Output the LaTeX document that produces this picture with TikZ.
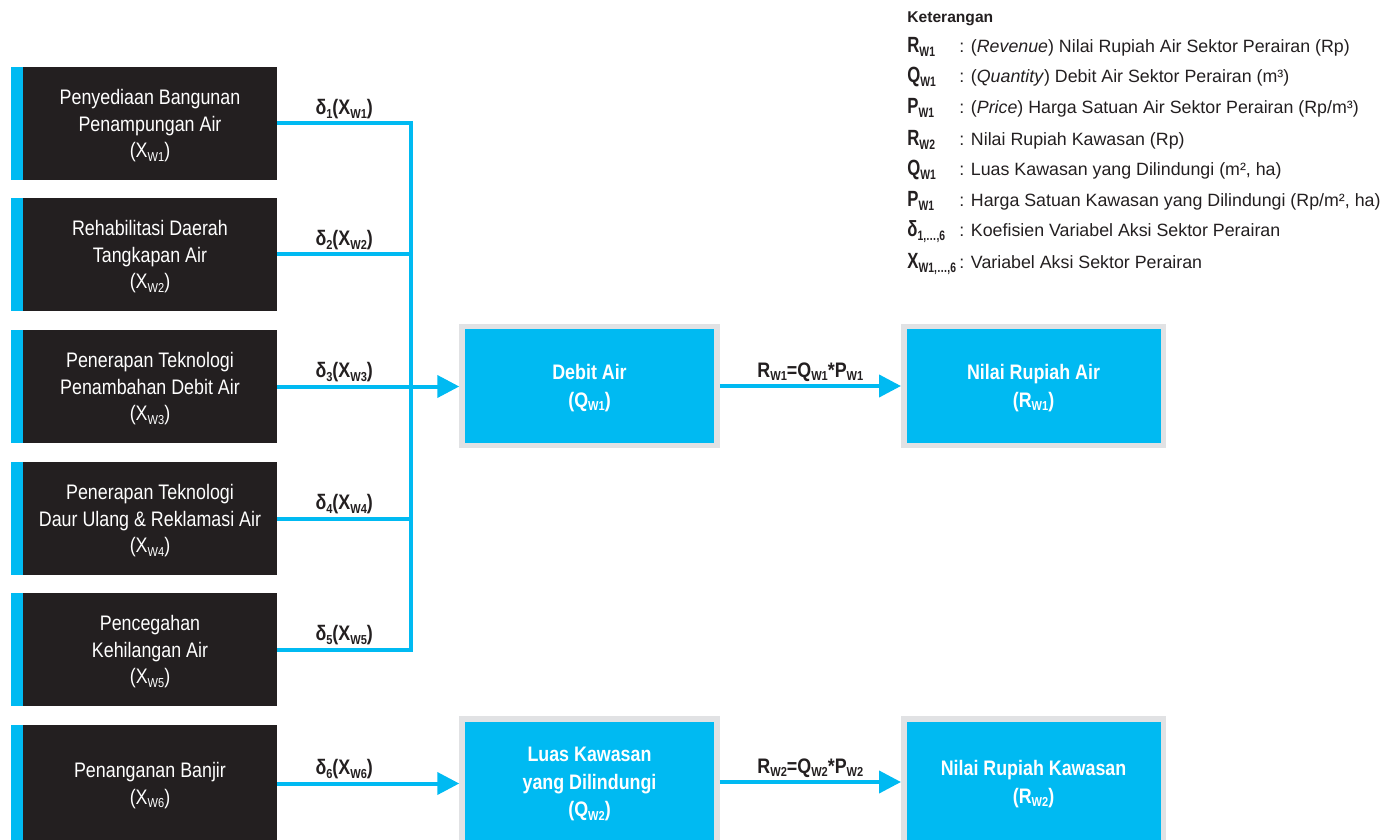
\documentclass[tikz,border=0pt]{standalone}
\usepackage{fontspec}
\setmainfont{Liberation Sans}
\newfontfamily\cond[FakeStretch=0.85]{Liberation Sans}
\newfontfamily\condn[FakeStretch=0.76]{Liberation Sans}
\usetikzlibrary{arrows.meta}
\definecolor{wcyan}{HTML}{00BAF2}
\definecolor{wdark}{HTML}{231F20}
\definecolor{wframe}{HTML}{E1E2E4}
% small lowered index, as used in the variable names
\newcommand\sbs[1]{\raisebox{-0.3ex}{\scalebox{0.62}{#1}}}
\begin{document}
\begin{tikzpicture}[x=0.5pt,y=-0.5pt,
  actbox/.style={fill=wdark, text=white, minimum width=127pt, minimum height=56.5pt,
    inner sep=0pt, align=center, text depth=-1pt, font=\cond\fontsize{10.5}{13.3}\selectfont},
  resbox/.style={fill=wcyan, draw=wframe, line width=2.75pt, text=white,
    minimum width=127.5pt, minimum height=59.5pt, inner sep=0pt, align=center, text depth=-1pt,
    font=\cond\bfseries\fontsize{10.5}{13.8}\selectfont},
  flow/.style={draw=wcyan, line width=2pt, line join=miter},
  arr/.style={flow, -{Triangle[length=11pt,width=11pt]}},
  lbl/.style={font=\cond\bfseries\fontsize{10.5}{12}\selectfont, text=wdark, inner sep=2pt},
  legsym/.style={font=\condn\bfseries\fontsize{11}{12}\selectfont, text=wdark, inner sep=0pt, anchor=base west},
  legtxt/.style={font=\fontsize{8.9}{10}\selectfont, text=wdark, inner sep=0pt, anchor=base west},
  stripe/.style={fill=wcyan}
]
\useasboundingbox (0,0) rectangle (1400,839);
\clip (0,0) rectangle (1400,839);

% action variables (left column)
\node[actbox] (b1) at (150,123.5) {Penyediaan Bangunan\\Penampungan Air\\(X\sbs{W1})};
\node[actbox] (b2) at (150,254.5) {Rehabilitasi Daerah\\Tangkapan Air\\(X\sbs{W2})};
\node[actbox] (b3) at (150,386.5) {Penerapan Teknologi\\Penambahan Debit Air\\(X\sbs{W3})};
\node[actbox] (b4) at (150,518.5) {Penerapan Teknologi\\Daur Ulang \& Reklamasi Air\\(X\sbs{W4})};
\node[actbox] (b5) at (150,649.5) {Pencegahan\\Kehilangan Air\\(X\sbs{W5})};
\node[actbox, minimum height=58.5pt] (b6) at (150,783.5) {Penanganan Banjir\\(X\sbs{W6})};
\foreach \b in {b1,b2,b3,b4,b5,b6}
  \fill[stripe] ([xshift=-6pt]\b.north west) rectangle (\b.south west);

% outcome boxes
\node[resbox] (debit) at (589.5,386) {Debit Air\\(Q\sbs{W1})};
\node[resbox, minimum width=129.75pt] (nra) at (1033.5,386) {Nilai Rupiah Air\\(R\sbs{W1})};
\node[resbox, minimum height=63.25pt] (luas) at (589.5,782) {Luas Kawasan\\yang Dilindungi\\(Q\sbs{W2})};
\node[resbox, minimum width=129.75pt, minimum height=63.25pt] (nrk) at (1033.5,782) {Nilai Rupiah Kawasan\\(R\sbs{W2})};

% collecting bus
\coordinate (jx) at (411,0);
\draw[flow] (b1.east) -- (b1.east -| jx) -- (b5.east -| jx) -- (b5.east);
\draw[flow] (b2.east) -- (b2.east -| jx);
\draw[flow] (b4.east) -- (b4.east -| jx);
\draw[arr] (b3.east) -- (b3.east -| debit.west);
\draw[arr] (b6.east) -- (b6.east -| luas.west);
\draw[arr] (debit.east) -- (debit.east -| nra.west);
\draw[arr] (luas.east) -- (luas.east -| nrk.west);

% coefficient labels
\path (b1.east) -- (b1.east -| jx) node[midway, above, lbl] {δ\sbs{1}(X\sbs{W1})};
\path (b2.east) -- (b2.east -| jx) node[midway, above, lbl] {δ\sbs{2}(X\sbs{W2})};
\path (b3.east) -- (b3.east -| jx) node[midway, above, lbl] {δ\sbs{3}(X\sbs{W3})};
\path (b4.east) -- (b4.east -| jx) node[midway, above, lbl] {δ\sbs{4}(X\sbs{W4})};
\path (b5.east) -- (b5.east -| jx) node[midway, above, lbl] {δ\sbs{5}(X\sbs{W5})};
\path (b6.east) -- (b6.east -| jx) node[midway, above, lbl] {δ\sbs{6}(X\sbs{W6})};
\path (debit.east) -- (debit.east -| nra.west) node[midway, above, lbl] {R\sbs{W1}=Q\sbs{W1}*P\sbs{W1}};
\path (luas.east) -- (luas.east -| nrk.west) node[midway, above, lbl] {R\sbs{W2}=Q\sbs{W2}*P\sbs{W2}};

% legend
\node[legtxt, font=\bfseries\fontsize{7.8}{9}\selectfont] (kt) at (907,23) {Keterangan};
\node[legsym] (s1) at (907,53)  {R\sbs{W1}};
\node[legsym] (s2) at (907,83)  {Q\sbs{W1}};
\node[legsym] (s3) at (907,114) {P\sbs{W1}};
\node[legsym] (s4) at (907,146) {R\sbs{W2}};
\node[legsym] (s5) at (907,176) {Q\sbs{W1}};
\node[legsym] (s6) at (907,207) {P\sbs{W1}};
\node[legsym] (s7) at (907,237) {δ\sbs{1,…,6}};
\node[legsym] (s8) at (907,269) {X\sbs{W1,…,6}};
\node[legtxt] (t1) at (959,53)  {: (\textit{Revenue}) Nilai Rupiah Air Sektor Perairan (Rp)};
\node[legtxt] (t2) at (959,83)  {: (\textit{Quantity}) Debit Air Sektor Perairan (m³)};
\node[legtxt] (t3) at (959,114) {: (\textit{Price}) Harga Satuan Air Sektor Perairan (Rp/m³)};
\node[legtxt] (t4) at (959,146) {: Nilai Rupiah Kawasan (Rp)};
\node[legtxt] (t5) at (959,176) {: Luas Kawasan yang Dilindungi (m², ha)};
\node[legtxt] (t6) at (959,207) {: Harga Satuan Kawasan yang Dilindungi (Rp/m², ha)};
\node[legtxt] (t7) at (959,237) {: Koefisien Variabel Aksi Sektor Perairan};
\node[legtxt] (t8) at (959,269) {: Variabel Aksi Sektor Perairan};
\end{tikzpicture}
\end{document}
